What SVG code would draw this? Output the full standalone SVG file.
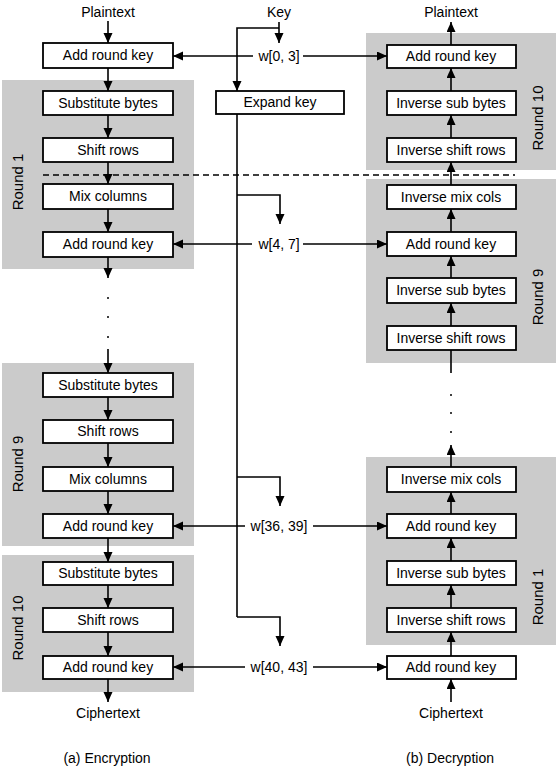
<svg xmlns="http://www.w3.org/2000/svg" width="558" height="772" viewBox="0 0 558 772">
<defs>
<marker id="ah" markerUnits="userSpaceOnUse" markerWidth="10" markerHeight="10" refX="10" refY="4.5" orient="auto">
<path d="M0,0 L10,4.5 L0,9 z" fill="#000"/>
</marker>
<style>
text{font-family:"Liberation Sans",Arial,sans-serif;font-size:14px;fill:#000;text-anchor:middle}
.rl{font-size:15px}
.g{fill:#cbcbcb}
.b{fill:#fff;stroke:#000;stroke-width:1.8}
.c line,.c path{stroke:#000;stroke-width:1.6;fill:none}
.a{marker-end:url(#ah)}
.d{stroke-dasharray:6,4}
</style>
</defs>
<rect width="558" height="772" fill="#fff"/>

<g id="rounds">
<rect class="g" x="2" y="80" width="192" height="189"/>
<rect class="g" x="2" y="363" width="192" height="183"/>
<rect class="g" x="2" y="555" width="192" height="137"/>
<rect class="g" x="366" y="33" width="190" height="137"/>
<rect class="g" x="366" y="179" width="190" height="184"/>
<rect class="g" x="366" y="457" width="190" height="188"/>
<text class="rl" transform="rotate(-90 23 182)" x="23" y="182">Round 1</text>
<text class="rl" transform="rotate(-90 23 464)" x="23" y="464">Round 9</text>
<text class="rl" transform="rotate(-90 23 628)" x="23" y="628">Round 10</text>
<text class="rl" transform="rotate(-90 543 118)" x="543" y="118">Round 10</text>
<text class="rl" transform="rotate(-90 543 297)" x="543" y="297">Round 9</text>
<text class="rl" transform="rotate(-90 543 597)" x="543" y="597">Round 1</text>
</g>

<g class="c" id="connectors">
<!-- encryption chain -->
<line class="a" x1="108" y1="21" x2="108" y2="43"/>
<line class="a" x1="108" y1="68" x2="108" y2="91"/>
<line class="a" x1="108" y1="115" x2="108" y2="138"/>
<line class="a" x1="108" y1="162" x2="108" y2="184"/>
<line class="a" x1="108" y1="209" x2="108" y2="232"/>
<line class="a" x1="108" y1="257" x2="108" y2="278"/>
<line class="a" x1="108" y1="349" x2="108" y2="373"/>
<line class="a" x1="108" y1="397" x2="108" y2="420"/>
<line class="a" x1="108" y1="443" x2="108" y2="467"/>
<line class="a" x1="108" y1="491" x2="108" y2="514"/>
<line class="a" x1="108" y1="538" x2="108" y2="562"/>
<line class="a" x1="108" y1="585" x2="108" y2="608"/>
<line class="a" x1="108" y1="632" x2="108" y2="656"/>
<line class="a" x1="108" y1="679" x2="108" y2="702"/>
<!-- decryption chain -->
<line class="a" x1="451" y1="45" x2="451" y2="22"/>
<line class="a" x1="451" y1="91" x2="451" y2="68"/>
<line class="a" x1="451" y1="138" x2="451" y2="115"/>
<line class="a" x1="451" y1="185" x2="451" y2="162"/>
<line class="a" x1="451" y1="232" x2="451" y2="209"/>
<line class="a" x1="451" y1="278" x2="451" y2="256"/>
<line class="a" x1="451" y1="326" x2="451" y2="303"/>
<line x1="451" y1="350" x2="451" y2="373"/>
<line class="a" x1="451" y1="467" x2="451" y2="445"/>
<line class="a" x1="451" y1="514" x2="451" y2="492"/>
<line class="a" x1="451" y1="561" x2="451" y2="538"/>
<line class="a" x1="451" y1="608" x2="451" y2="585"/>
<line class="a" x1="451" y1="656" x2="451" y2="632"/>
<line class="a" x1="451" y1="702" x2="451" y2="679"/>
<!-- dashed separator -->
<line class="d" x1="43" y1="175" x2="515" y2="175"/>
<!-- key schedule -->
<line class="a" x1="279" y1="22" x2="279" y2="43"/>
<path class="a" d="M279,28 H237 V91"/>
<line x1="237" y1="114" x2="237" y2="617"/>
<path class="a" d="M237,195 H280 V224"/>
<path class="a" d="M237,477 H280 V506"/>
<path class="a" d="M237,617 H280 V646"/>
<!-- round keys -->
<line class="a" x1="253" y1="56" x2="173" y2="56"/>
<line class="a" x1="303" y1="56" x2="387" y2="56"/>
<line class="a" x1="252" y1="244" x2="173" y2="244"/>
<line class="a" x1="303" y1="244" x2="387" y2="244"/>
<line class="a" x1="245" y1="526" x2="173" y2="526"/>
<line class="a" x1="313" y1="526" x2="387" y2="526"/>
<line class="a" x1="245" y1="667" x2="173" y2="667"/>
<line class="a" x1="313" y1="667" x2="387" y2="667"/>
</g>

<g id="dots">
<circle cx="108" cy="298" r="1" fill="#000"/>
<circle cx="108" cy="317" r="1" fill="#000"/>
<circle cx="108" cy="337" r="1" fill="#000"/>
<circle cx="451" cy="395" r="1" fill="#000"/>
<circle cx="451" cy="413" r="1" fill="#000"/>
<circle cx="451" cy="432" r="1" fill="#000"/>
</g>

<g id="labels">
<text x="108" y="17">Plaintext</text>
<text x="451" y="17">Plaintext</text>
<text x="279" y="17">Key</text>
<text x="108" y="718">Ciphertext</text>
<text x="451" y="718">Ciphertext</text>
<text x="107" y="763">(a) Encryption</text>
<text x="450" y="763">(b) Decryption</text>
<text x="279" y="61">w[0, 3]</text>
<text x="279" y="249">w[4, 7]</text>
<text x="279" y="531">w[36, 39]</text>
<text x="279" y="672">w[40, 43]</text>
</g>

<g id="expand-key"><rect class="b" x="216" y="91" width="128" height="23"/><text x="280" y="107">Expand key</text></g>

<g id="enc-ark0"><rect class="b" x="43" y="43" width="130" height="25"/><text x="108" y="60">Add round key</text></g>
<g id="enc-sb1"><rect class="b" x="43" y="91" width="130" height="24"/><text x="108" y="108">Substitute bytes</text></g>
<g id="enc-sr1"><rect class="b" x="43" y="138" width="130" height="24"/><text x="108" y="155">Shift rows</text></g>
<g id="enc-mc1"><rect class="b" x="43" y="184" width="130" height="25"/><text x="108" y="201">Mix columns</text></g>
<g id="enc-ark1"><rect class="b" x="43" y="232" width="130" height="25"/><text x="108" y="249">Add round key</text></g>
<g id="enc-sb9"><rect class="b" x="43" y="373" width="130" height="24"/><text x="108" y="390">Substitute bytes</text></g>
<g id="enc-sr9"><rect class="b" x="43" y="420" width="130" height="23"/><text x="108" y="436">Shift rows</text></g>
<g id="enc-mc9"><rect class="b" x="43" y="467" width="130" height="24"/><text x="108" y="484">Mix columns</text></g>
<g id="enc-ark9"><rect class="b" x="43" y="514" width="130" height="24"/><text x="108" y="531">Add round key</text></g>
<g id="enc-sb10"><rect class="b" x="43" y="562" width="130" height="23"/><text x="108" y="578">Substitute bytes</text></g>
<g id="enc-sr10"><rect class="b" x="43" y="608" width="130" height="24"/><text x="108" y="625">Shift rows</text></g>
<g id="enc-ark10"><rect class="b" x="43" y="656" width="130" height="23"/><text x="108" y="672">Add round key</text></g>

<g id="dec-ark10"><rect class="b" x="387" y="45" width="129" height="23"/><text x="451" y="61">Add round key</text></g>
<g id="dec-isb10"><rect class="b" x="387" y="91" width="129" height="24"/><text x="451" y="108">Inverse sub bytes</text></g>
<g id="dec-isr10"><rect class="b" x="387" y="138" width="129" height="24"/><text x="451" y="155">Inverse shift rows</text></g>
<g id="dec-imc9"><rect class="b" x="387" y="185" width="129" height="24"/><text x="451" y="202">Inverse mix cols</text></g>
<g id="dec-ark9"><rect class="b" x="387" y="232" width="129" height="24"/><text x="451" y="249">Add round key</text></g>
<g id="dec-isb9"><rect class="b" x="387" y="278" width="129" height="25"/><text x="451" y="295">Inverse sub bytes</text></g>
<g id="dec-isr9"><rect class="b" x="387" y="326" width="129" height="24"/><text x="451" y="343">Inverse shift rows</text></g>
<g id="dec-imc1"><rect class="b" x="387" y="467" width="129" height="25"/><text x="451" y="484">Inverse mix cols</text></g>
<g id="dec-ark1"><rect class="b" x="387" y="514" width="129" height="24"/><text x="451" y="531">Add round key</text></g>
<g id="dec-isb1"><rect class="b" x="387" y="561" width="129" height="24"/><text x="451" y="578">Inverse sub bytes</text></g>
<g id="dec-isr1"><rect class="b" x="387" y="608" width="129" height="24"/><text x="451" y="625">Inverse shift rows</text></g>
<g id="dec-ark0"><rect class="b" x="387" y="656" width="129" height="23"/><text x="451" y="672">Add round key</text></g>
</svg>
